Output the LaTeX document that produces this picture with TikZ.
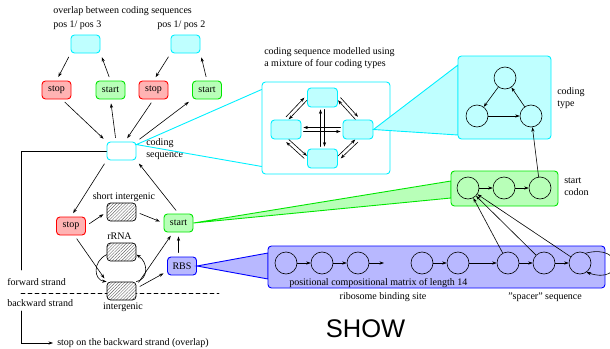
\documentclass[tikz,border=0pt]{standalone}
\usepackage{fontspec}
\setmainfont{Liberation Serif}
\newfontfamily\showfont{Liberation Sans}
\usetikzlibrary{arrows.meta,patterns.meta,calc}
\definecolor{cyline}{RGB}{0,240,255}
\definecolor{cyfill}{RGB}{191,255,255}
\definecolor{rdline}{RGB}{255,0,0}
\definecolor{rdfill}{RGB}{255,179,179}
\definecolor{grline}{RGB}{0,230,0}
\definecolor{grfill}{RGB}{184,255,184}
\definecolor{blline}{RGB}{0,0,255}
\definecolor{blfill}{RGB}{184,184,255}

\begin{document}
\begin{tikzpicture}[x=1pt,y=-1pt,>={Stealth[length=4.5pt,width=3.2pt]},
  font=\fontsize{10}{12}\selectfont,line cap=round,line width=0.6pt,
  box/.style={rounded corners=3.5pt,minimum width=29pt,minimum height=18pt,inner sep=0pt,line width=0.9pt},
  cbox/.style={box,draw=cyline,fill=cyfill},
  sbox/.style={box,draw=rdline,fill=rdfill},
  gbox/.style={box,draw=grline,fill=grfill},
  bbox/.style={box,draw=blline,fill=blfill},
  hbox/.style={box,draw=black,line width=0.7pt,preaction={fill=white},pattern={Lines[angle=45,distance=2.2pt,line width=0.4pt]},pattern color=black!60},
  st/.style={circle,draw,minimum size=22pt,inner sep=0pt,line width=0.6pt},
  lbl/.style={align=left,anchor=west,inner sep=0pt},
  con/.style={->,shorten >=4pt,shorten <=4pt},
  pr/.style={->,shorten >=2pt,shorten <=2pt}]
\useasboundingbox (0,0) rectangle (610,348);
\draw[dash pattern=on 4pt off 3pt,line width=0.8pt] (21,293) -- (219,293);
\node[lbl] (ovl) at (53,11) {overlap between coding sequences};
\node[lbl] (pos3) at (53,25) {pos 1/ pos 3};
\node[lbl] (pos2) at (157,25) {pos 1/ pos 2};
\node[cbox] (ovA) at (85.5,44) {};
\node[cbox] (ovB) at (185.5,44) {};
\node[sbox] (stopA) at (56.5,90) {stop};
\node[gbox] (startA) at (110.5,90) {start};
\node[sbox] (stopB) at (153.5,90) {stop};
\node[gbox] (startB) at (207,90) {start};
\node[cbox,fill=white] (cds) at (121.5,151) {};
\node[lbl] (cdslbl) at (146,149) {coding\\sequence};
\draw[con] (ovA.south west) -- (stopA.north);
\draw[con] (startA.north) -- (ovA.south east);
\draw[con] (ovB.south west) -- (stopB.north);
\draw[con] (startB.north) -- (ovB.south east);
\draw[con] (stopA.-60) -- (cds.north west);
\draw[con] (cds.120) -- (startA.south);
\draw[con] (stopB.south) -- (cds.70);
\draw[con] (cds.north east) -- (startB.south west);
\node[sbox] (stop) at (71,226) {stop};
\node[hbox] (short) at (121.5,212) {};
\node[gbox] (start) at (178.5,223) {start};
\node[hbox] (rrna) at (121.5,252) {};
\node[hbox] (inter) at (121.5,291) {};
\node[bbox] (rbs) at (182,266) {RBS};
\node[inner sep=0pt] (shortlbl) at (124,197) {short intergenic};
\node[inner sep=0pt] (rrnalbl) at (119.5,236) {rRNA};
\node[inner sep=0pt] (interlbl) at (123,307) {intergenic};
\node[lbl] (fwd) at (7,282) {forward strand};
\node[lbl] (bwd) at (7,303) {backward strand};
\node[lbl] (bstop) at (57,343) {stop on the backward strand (overlap)};
\coordinate (fwdend) at (21,270);
\coordinate (bwdstart) at (21,311);
\draw (cds.west) -| (fwdend);
\draw[->,shorten >=4pt] (bwdstart) |- (bstop.west);
\draw[con] (cds.south west) -- (stop.north);
\draw[con] (start.north) -- (cds.south east);
\draw[con] (stop.east) -- (short.west);
\draw[con] (short.east) -- (start.west);
\draw[con] (stop.-70) -- (inter.north west);
\draw[con] (inter.20) -- (start.-120);
\draw[con] (inter.10) -- (rbs.200);
\draw[con] (start |- rbs.north) -- (start.south);
\draw[->] (inter.north east) .. controls (149,279) and (148,262) .. (rrna.-10);
\draw[->] (rrna.190) .. controls (92,262) and (94,280) .. (inter.north west);
\node[cbox,fill=white,minimum width=128pt,minimum height=92pt] (mix) at (326,128) {};
\node[lbl] (mixlbl) at (264,58.5) {coding sequence modelled using\\a mixture of four coding types};
\draw[cyline,line width=0.9pt] ($(mix.north west)+(0,8)$) -- ($(cds.north east)+(0,3)$) -- ($(mix.south west)+(0,-8)$);
\node[cbox,minimum width=30pt,minimum height=19pt] (mT) at (322.5,97.5) {};
\node[cbox,minimum width=30pt,minimum height=19pt] (mL) at (286,129.5) {};
\node[cbox,minimum width=30pt,minimum height=19pt] (mR) at (358,129.5) {};
\node[cbox,minimum width=30pt,minimum height=19pt] (mB) at (322.5,158.5) {};
\draw[pr] ([yshift=-2pt]mL.east) -- ([yshift=-2pt]mR.west);
\draw[pr] ([yshift=2pt]mR.west) -- ([yshift=2pt]mL.east);
\draw[pr] ([xshift=2pt]mT.south) -- ([xshift=2pt]mB.north);
\draw[pr] ([xshift=-2pt]mB.north) -- ([xshift=-2pt]mT.south);
\draw[pr] ([shift={(-1.3,-1.3)}]mL.north) -- ([shift={(-1.3,-1.3)}]mT.west);
\draw[pr] ([shift={(1.3,1.3)}]mT.west) -- ([shift={(1.3,1.3)}]mL.north);
\draw[pr] ([shift={(1.3,-1.3)}]mT.east) -- ([shift={(1.3,-1.3)}]mR.north);
\draw[pr] ([shift={(-1.3,1.3)}]mR.north) -- ([shift={(-1.3,1.3)}]mT.east);
\draw[pr] ([shift={(1.3,1.3)}]mR.south) -- ([shift={(1.3,1.3)}]mB.east);
\draw[pr] ([shift={(-1.3,-1.3)}]mB.east) -- ([shift={(-1.3,-1.3)}]mR.south);
\draw[pr] ([shift={(-1.3,1.3)}]mB.west) -- ([shift={(-1.3,1.3)}]mL.south);
\draw[pr] ([shift={(1.3,-1.3)}]mL.south) -- ([shift={(1.3,-1.3)}]mB.west);
\fill[cyfill,draw=cyline,line width=0.9pt] (mR.east) -- (458,65) -- (458,135) -- cycle;
\node[cbox,minimum width=93pt,minimum height=83pt] (ctype) at (504.5,97.5) {};
\node[st] (c1) at (505,78) {};
\node[st] (c2) at (477,116) {};
\node[st] (c3) at (531,116) {};
\draw[->] (c1) -- (c2);
\draw[->] (c2) -- (c3);
\draw[->] (c3) -- (c1);
\node[lbl] (ctypelbl) at (557,98) {coding\\type};
\fill[grfill,draw=grline,line width=0.9pt] (start.east) -- (451,181) -- (451,198) -- cycle;
\node[gbox,minimum width=107pt,minimum height=35pt] (scod) at (504.5,188.5) {};
\node[st] (s1) at (468,188) {};
\node[st] (s2) at (504,188) {};
\node[st] (s3) at (540,188) {};
\draw[->] (s1) -- (s2);
\draw[->] (s2) -- (s3);
\draw[->] (s3) -- (c3);
\node[lbl] (scodlbl) at (564,187) {start\\codon};
\fill[blfill,draw=blline,line width=0.9pt] (rbs.east) -- (268,253) -- (268,279) -- cycle;
\node[bbox,minimum width=337pt,minimum height=42pt] (rbsbox) at (436.5,267) {};
\node[st] (r1) at (286,263) {};
\node[st] (r2) at (322,263) {};
\node[st] (r3) at (358,263) {};
\coordinate (rgap) at (384,263);
\node[st] (r4) at (422,263) {};
\node[st] (r5) at (458,263) {};
\node[st] (r6) at (508,263) {};
\node[st] (r7) at (544,263) {};
\node[st] (r8) at (580,263) {};
\draw[->] (r1) -- (r2);
\draw[->] (r2) -- (r3);
\draw[->] (r3) -- (rgap);
\draw[->] (r4) -- (r5);
\draw[->] (r5) -- (r6);
\draw[->] (r6) -- (r7);
\draw[->] (r7) -- (r8);
\draw[->] (r8.60) .. controls (624,243) and (624,285) .. (r8.-55);
\draw[->] (r6) -- (s1);
\draw[->] (r7) -- (s1);
\draw[->] (r8) -- (s1);
\node[lbl] (pcm) at (289,283) {positional compositional matrix of length 14};
\node[inner sep=0pt] (rbslbl) at (383,297) {ribosome binding site};
\node[lbl] (spacer) at (508,297) {"spacer" sequence};
\node[font=\showfont\fontsize{25.5}{30}\selectfont,inner sep=0pt] (show) at (365.5,328.5) {SHOW};
\end{tikzpicture}
\end{document}
